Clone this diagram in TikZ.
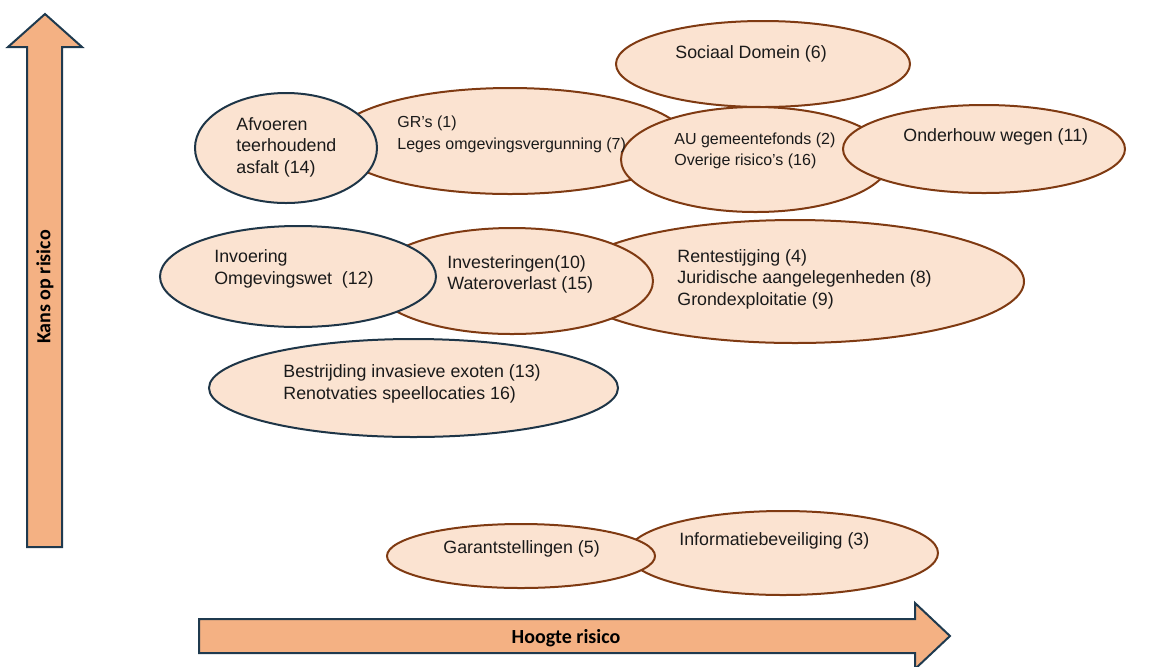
\documentclass[tikz,border=0pt]{standalone}
\usepackage{fontspec}
\setmainfont{Liberation Sans}
\newfontfamily\axisfont{Carlito}
\usetikzlibrary{shapes.geometric}
\definecolor{ArrowClr}{HTML}{F4B183}
\definecolor{ArrowLine}{HTML}{1F3A4F}
\definecolor{BubbleClr}{HTML}{FBE3D1}
\definecolor{BubbleLine}{HTML}{7F3A12}
\definecolor{NavyLine}{HTML}{1E3547}
\definecolor{TxtClr}{HTML}{1A1A1A}

\begin{document}
\begin{tikzpicture}[x=0.5pt,y=-0.5pt,
  bubble/.style={ellipse,draw=BubbleLine,line width=1pt,fill=BubbleClr,inner sep=0pt},
  navybubble/.style={bubble,draw=NavyLine},
  risk/.style={anchor=west,align=left,inner sep=0pt,text=TxtClr,font=\fontsize{8.9}{10.75}\selectfont},
  smallrisk/.style={risk,font=\fontsize{8}{10.75}\selectfont},
  axis/.style={draw=ArrowLine,line width=1pt,fill=ArrowClr,line join=miter},
  axislabel/.style={inner sep=0pt,font=\axisfont\bfseries\fontsize{10}{12}\selectfont}]

\useasboundingbox (0,0) rectangle (1153,666);

% assen
\draw[axis] (27,547) -- (27,47) -- (8,47) -- (45,14) -- (82,47) -- (62,47) -- (62,547) -- cycle;
\node[axislabel,rotate=90] (kans) at (45,287) {Kans op risico};
\draw[axis] (199,619) -- (915,619) -- (915,603) -- (950,636) -- (915,669) -- (915,653) -- (199,653) -- cycle;
\node[axislabel] (hoogte) at (566,638) {Hoogte risico};

% ellipsen
\node[bubble,minimum width=147pt,minimum height=43pt] (soc) at (763,64) {};
\node[bubble,minimum width=177pt,minimum height=53pt] (gr) at (510,141) {};
\node[navybubble,minimum width=91pt,minimum height=55pt] (afv) at (286,148) {};
\node[bubble,minimum width=134.5pt,minimum height=52.5pt] (au) at (755.5,159.5) {};
\node[bubble,minimum width=141pt,minimum height=44pt] (ond) at (984,149) {};
\node[bubble,minimum width=229pt,minimum height=61.5pt] (rente) at (795,281.5) {};
\node[bubble,minimum width=141pt,minimum height=53pt] (inv) at (512,281) {};
\node[navybubble,minimum width=138pt,minimum height=50.5pt] (omg) at (298,276.5) {};
\node[navybubble,minimum width=204.5pt,minimum height=49pt] (exo) at (413.5,388) {};
\node[bubble,minimum width=155pt,minimum height=42pt] (info) at (783,553) {};
\node[bubble,minimum width=134pt,minimum height=32pt] (gar) at (521,556) {};

% teksten
\node[risk] (socT) at (675,54) {Sociaal Domein (6)};
\node[smallrisk] (grT) at (397,134.5) {GR's (1)\\Leges omgevingsvergunning (7)};
\node[risk] (afvT) at (236,147) {Afvoeren\\teerhoudend\\asfalt (14)};
\node[smallrisk] (auT) at (674,151) {AU gemeentefonds (2)\\Overige risico's (16)};
\node[risk] (ondT) at (903,137) {Onderhouw wegen (11)};
\node[risk] (omgT) at (214,269) {Invoering\\Omgevingswet\ \ (12)};
\node[risk] (invT) at (447,274.5) {Investeringen(10)\\Wateroverlast (15)};
\node[risk] (renteT) at (677,279) {Rentestijging (4)\\Juridische aangelegenheden (8)\\Grondexploitatie (9)};
\node[risk] (exoT) at (283,384) {Bestrijding invasieve exoten (13)\\Renotvaties speellocaties 16)};
\node[risk] (garT) at (443,549) {Garantstellingen (5)};
\node[risk] (infoT) at (679,541) {Informatiebeveiliging (3)};

\end{tikzpicture}
\end{document}
